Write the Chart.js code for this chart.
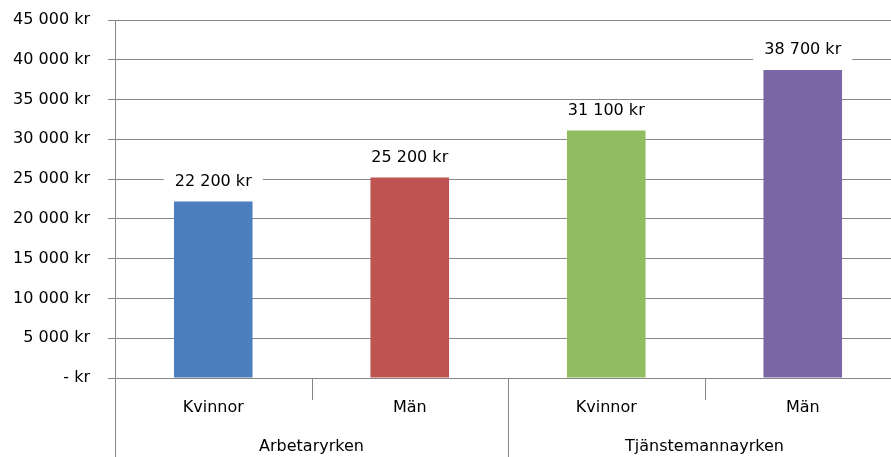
<!DOCTYPE html>
<html>
<head>
<meta charset="utf-8">
<style>
  html, body { margin: 0; padding: 0; background: #fff; overflow: hidden; }
  #wrap { width: 910px; height: 457px; }
</style>
</head>
<body>
<div id="wrap"><canvas id="chart" width="910" height="457"></canvas></div>
<script src="https://cdn.jsdelivr.net/npm/chart.js"></script>
<script>
// data
var subLabels = ['Kvinnor', 'Män', 'Kvinnor', 'Män'];
var groupLabels = ['Arbetaryrken', 'Tjänstemannayrken'];
var groupSizes = [2, 2];
var lon = [22200, 25200, 31100, 38700];
var barColors = ['#4B7FBE', '#BF5351', '#91BD60', '#7B66A5'];
var yMax = 45000;
var yStep = 5000;

var FONT = '"DejaVu Sans", sans-serif';
var GRID = '#868686';

function fmt(v) {
    if (v === 0) return '- kr';
    return String(v).replace(/\B(?=(\d{3})+(?!\d))/g, ' ') + ' kr';
}

// value labels with white box + two level category axis
var extras = {
    id: 'extras',
    afterDatasetsDraw: function (chart) {
        var ctx = chart.ctx;
        var meta = chart.getDatasetMeta(0);
        ctx.save();
        ctx.font = '16px ' + FONT;
        ctx.textAlign = 'center';
        ctx.textBaseline = 'middle';
        meta.data.forEach(function (bar, i) {
            var t = fmt(lon[i]);
            var w = ctx.measureText(t).width;
            var y = bar.y - 20;
            ctx.fillStyle = '#fff';
            ctx.fillRect(bar.x - w / 2 - 11, y - 10, w + 22, 20);
            ctx.fillStyle = '#000';
            ctx.fillText(t, bar.x, y);
        });
        ctx.restore();
    },
    afterDraw: function (chart) {
        var ctx = chart.ctx;
        var xs = chart.scales.x;
        var area = chart.chartArea;
        var H = chart.height;
        var half = (xs.getPixelForValue(1) - xs.getPixelForValue(0)) / 2;
        ctx.save();
        ctx.strokeStyle = GRID;
        ctx.lineWidth = 1;
        // y axis line extended down through the label rows
        ctx.beginPath();
        ctx.moveTo(Math.round(area.left) + 0.5, area.top);
        ctx.lineTo(Math.round(area.left) + 0.5, H);
        ctx.stroke();
        ctx.font = '16px ' + FONT;
        ctx.fillStyle = '#000';
        ctx.textAlign = 'center';
        ctx.textBaseline = 'middle';
        subLabels.forEach(function (l, i) {
            ctx.fillText(l, xs.getPixelForValue(i), area.bottom + 30);
        });
        var idx = 0;
        groupLabels.forEach(function (g, k) {
            var first = xs.getPixelForValue(idx) - half;
            var last = xs.getPixelForValue(idx + groupSizes[k] - 1) + half;
            for (var j = 1; j < groupSizes[k]; j++) {
                var sx = Math.round(xs.getPixelForValue(idx + j) - half) + 0.5;
                ctx.beginPath();
                ctx.moveTo(sx, area.bottom);
                ctx.lineTo(sx, area.bottom + 22);
                ctx.stroke();
            }
            if (k > 0) {
                var bx = Math.round(first) + 0.5;
                ctx.beginPath();
                ctx.moveTo(bx, area.bottom);
                ctx.lineTo(bx, H);
                ctx.stroke();
            }
            ctx.fillText(g, (first + last) / 2, area.bottom + 69);
            idx += groupSizes[k];
        });
        ctx.restore();
    }
};

new Chart(document.getElementById('chart'), {
    type: 'bar',
    data: {
        labels: subLabels,
        datasets: [{
            data: lon,
            backgroundColor: barColors,
            barPercentage: 0.4,
            categoryPercentage: 1.0
        }]
    },
    options: {
        responsive: false,
        animation: false,
        layout: { padding: { top: 20, right: 9, left: 0, bottom: 0 } },
        plugins: { legend: { display: false }, tooltip: { enabled: false } },
        scales: {
            x: {
                grid: { display: false },
                border: { display: false },
                ticks: { display: false },
                afterFit: function (s) { s.height = 79; }
            },
            y: {
                min: 0,
                max: yMax,
                ticks: {
                    stepSize: yStep,
                    color: '#000',
                    font: { family: FONT, size: 16 },
                    padding: 18,
                    callback: function (v) { return fmt(v); }
                },
                grid: { color: GRID, lineWidth: 1, tickLength: 7 },
                border: { display: false },
                afterFit: function (s) { s.width = 115; s.paddingTop = 0; s.paddingBottom = 0; }
            }
        }
    },
    plugins: [extras]
});
</script>
</body>
</html>
